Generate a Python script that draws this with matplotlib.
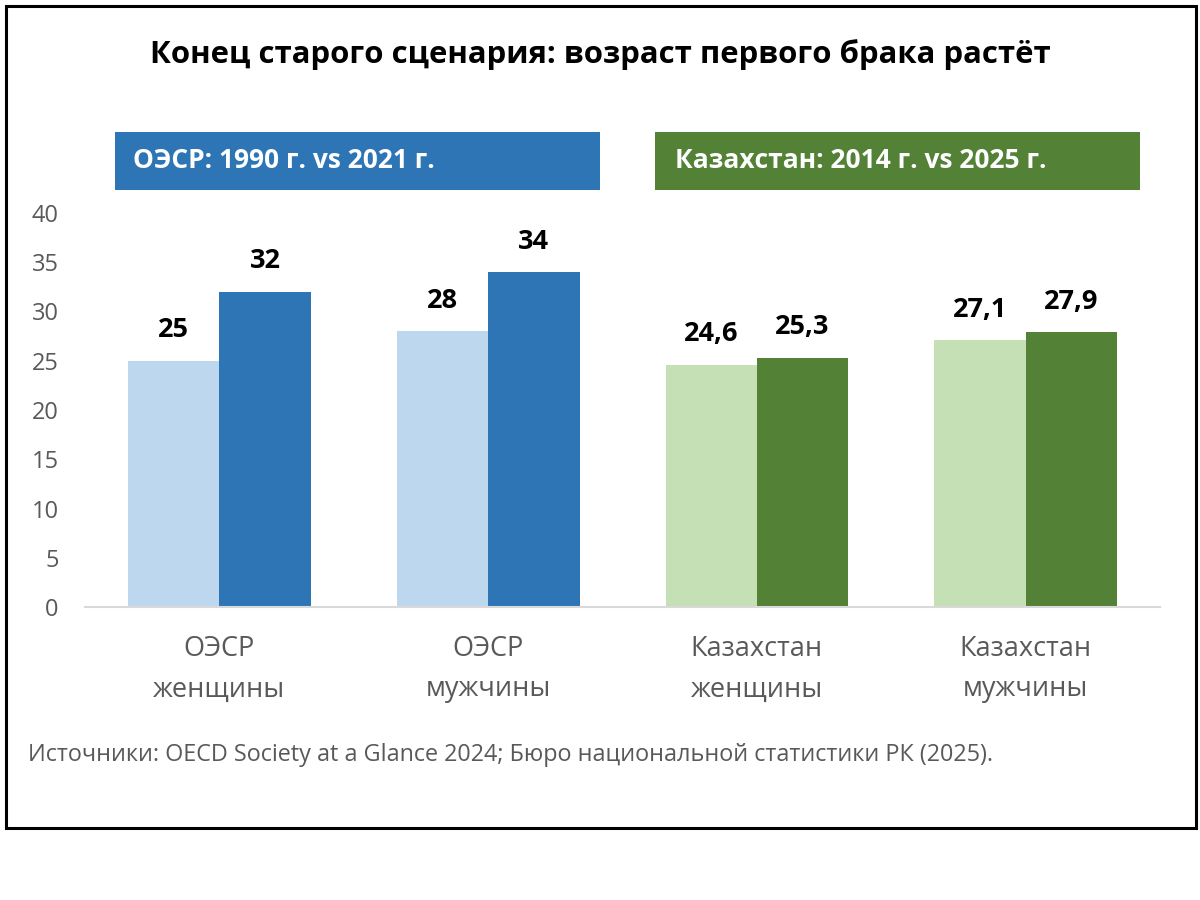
import numpy as np
import matplotlib.pyplot as plt
from matplotlib.patches import Rectangle

plt.rcParams['font.family'] = ['Open Sans', 'DejaVu Sans']

# data
categories = ["ОЭСР\nженщины", "ОЭСР\nмужчины", "Казахстан\nженщины", "Казахстан\nмужчины"]
earlier = [25, 28, 24.6, 27.1]
later = [32, 34, 25.3, 27.9]
earlier_labels = ["25", "28", "24,6", "27,1"]
later_labels = ["32", "34", "25,3", "27,9"]
yticks = [0, 5, 10, 15, 20, 25, 30, 35, 40]

title = "Конец старого сценария: возраст первого брака растёт"
banner_left = "ОЭСР: 1990 г. vs 2021 г."
banner_right = "Казахстан: 2014 г. vs 2025 г."
source = "Источники: OECD Society at a Glance 2024; Бюро национальной статистики РК (2025)."

light_cols = ["#BDD7EE", "#BDD7EE", "#C5E0B4", "#C5E0B4"]
dark_cols = ["#2E75B6", "#2E75B6", "#538135", "#538135"]
gray = "#595959"

W, H = 1200, 900
fig = plt.figure(figsize=(12, 9), dpi=100)

def fx(px):
    return px / W

def fy(py):
    return 1 - py / H

# outer frame
fig.patches.append(Rectangle((fx(6), fy(828)), fx(1190), 822 / H, transform=fig.transFigure,
                             fill=False, edgecolor='black', linewidth=2.2))

fig.text(0.5, fy(55), title, ha='center', va='center', fontsize=22.4, fontweight='bold', color='black')

# banners
fig.patches.append(Rectangle((fx(115), fy(190)), fx(485), 58 / H, transform=fig.transFigure,
                             facecolor="#2E75B6", edgecolor='none'))
fig.patches.append(Rectangle((fx(655), fy(190)), fx(485), 58 / H, transform=fig.transFigure,
                             facecolor="#538135", edgecolor='none'))
fig.text(fx(133), fy(161), banner_left, ha='left', va='center', fontsize=19, fontweight='bold', color='white')
fig.text(fx(675), fy(161), banner_right, ha='left', va='center', fontsize=19, fontweight='bold', color='white')

ax = fig.add_axes([fx(85), fy(607), fx(1160 - 85), (607 - 213) / H])
x = np.arange(len(categories))
w = 0.34
ax.bar(x - w / 2, earlier, width=w, color=light_cols)
ax.bar(x + w / 2, later, width=w, color=dark_cols)

for xi, v, lab in zip(x - w / 2, earlier, earlier_labels):
    ax.annotate(lab, (xi, v), xytext=(0, 22), textcoords='offset points', ha='center', va='center',
                fontsize=19.5, fontweight='bold', color='black')
for xi, v, lab in zip(x + w / 2, later, later_labels):
    ax.annotate(lab, (xi, v), xytext=(0, 22), textcoords='offset points', ha='center', va='center',
                fontsize=19.5, fontweight='bold', color='black')

ax.set_xlim(-0.5, len(categories) - 0.5)
ax.set_ylim(0, 40)
ax.set_yticks(yticks)
ax.set_xticks(x)
ax.set_xticklabels(categories, fontsize=19.5, color=gray, linespacing=1.6)
ax.tick_params(axis='y', labelsize=17, labelcolor=gray, length=0, pad=19)
ax.tick_params(axis='x', length=0, pad=20)
for s in ['top', 'right', 'left']:
    ax.spines[s].set_visible(False)
ax.spines['bottom'].set_color('#D9D9D9')
ax.spines['bottom'].set_linewidth(1.5)

fig.text(fx(28), fy(755), source, ha='left', va='center', fontsize=16.8, color=gray)

fig.savefig("out.png", dpi=100, facecolor='white')
